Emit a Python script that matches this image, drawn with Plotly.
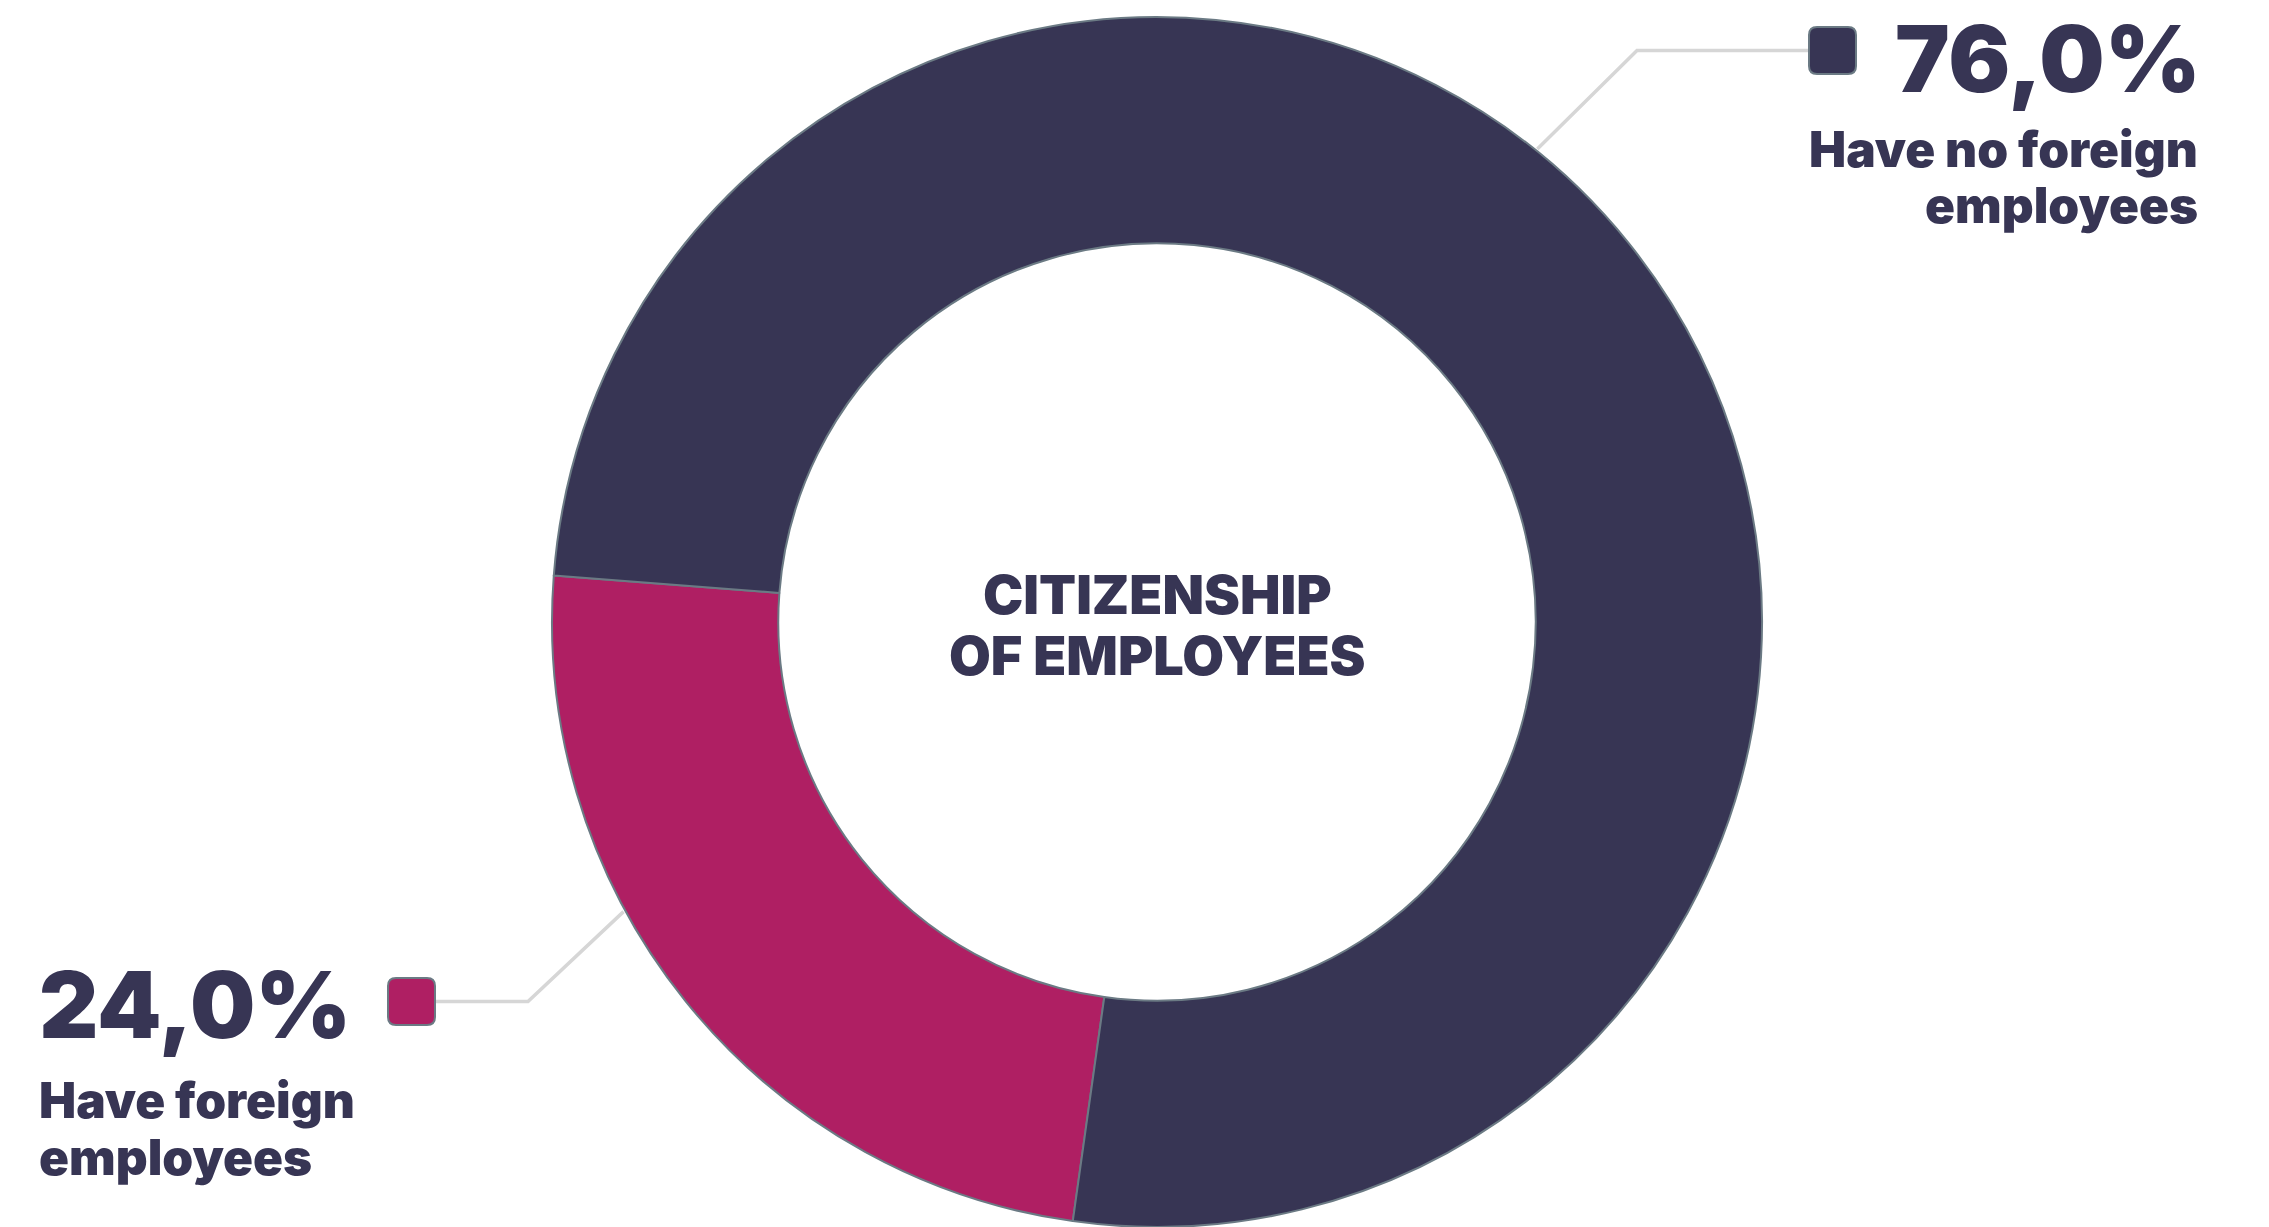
import numpy as np
import plotly.graph_objects as go

# --- data ---
labels = ["Have foreign employees", "Have no foreign employees"]
values = [24.0, 76.0]
colors = ["#AF1F63", "#373554"]
value_texts = ["24,0%", "76,0%"]
caption_lines = [["Have foreign", "employees"], ["Have no foreign", "employees"]]
center_title = ["CITIZENSHIP", "OF EMPLOYEES"]

W, H = 2269, 1227
FONT = "Inter"
INK = "#373554"
EDGE = "#6B7A84"
LEADER = "#D6D6D6"

# donut geometry in pixels
cx, cy, R = 1157, 622, 605
hole = 0.626
rotation = 188

fig = go.Figure()

fig.add_trace(go.Pie(
    labels=labels,
    values=values,
    sort=False,
    direction="clockwise",
    rotation=rotation,
    hole=hole,
    marker=dict(colors=colors, line=dict(color=EDGE, width=2)),
    textinfo="none",
    hoverinfo="label+percent",
    showlegend=False,
    domain=dict(x=[(cx - R) / W, (cx + R) / W],
                y=[1 - (cy + R) / H if cy + R < H else 0, 1 - (cy - R) / H]),
))

# pixel-space overlay axes for leaders, swatches and labels
fig.add_trace(go.Scatter(x=[0, W], y=[0, H], mode="markers",
                         marker=dict(opacity=0), hoverinfo="skip", showlegend=False))


def edge_point(angle_deg, r):
    a = np.deg2rad(angle_deg)
    return cx + r * np.sin(a), cy - r * np.cos(a)


def rounded_square(x0, y0, s, rr):
    x1, y1 = x0 + s, y0 + s
    return (f"M {x0+rr},{y0} L {x1-rr},{y0} Q {x1},{y0} {x1},{y0+rr} "
            f"L {x1},{y1-rr} Q {x1},{y1} {x1-rr},{y1} L {x0+rr},{y1} "
            f"Q {x0},{y1} {x0},{y1-rr} L {x0},{y0+rr} Q {x0},{y0} {x0+rr},{y0} Z")


shapes = []
annotations = []

# leader angles measured clockwise from 12 o'clock
leaders = [
    dict(angle=241.5, elbow_x=528, swatch_x=388, swatch_y=978, side="left"),
    dict(angle=38.8, elbow_x=1637, swatch_x=1809, swatch_y=27, side="right"),
]
SW = 47

for i, ld in enumerate(leaders):
    px, py = edge_point(ld["angle"], R + 2)
    sy = ld["swatch_y"] + SW / 2
    end_x = ld["swatch_x"] + SW if ld["side"] == "left" else ld["swatch_x"]
    shapes.append(dict(type="path", xref="x", yref="y", layer="below",
                       path=f"M {px},{py} L {ld['elbow_x']},{sy} L {end_x},{sy}",
                       line=dict(color=LEADER, width=3.5)))
    shapes.append(dict(type="path", xref="x", yref="y",
                       path=rounded_square(ld["swatch_x"], ld["swatch_y"], SW, 8),
                       fillcolor=colors[i], line=dict(color=EDGE, width=2)))

text_blocks = [
    dict(x=37, anchor="left", value_y=1004, cap_y=[1100, 1157]),
    dict(x=2203, anchor="right", value_y=58, cap_y=[149, 205]),
]
for i, tb in enumerate(text_blocks):
    annotations.append(dict(x=tb["x"], y=tb["value_y"], xref="x", yref="y",
                            text=value_texts[i], showarrow=False,
                            xanchor=tb["anchor"], yanchor="middle",
                            font=dict(family=FONT, size=92, color=INK, weight=900)))
    for line, ly in zip(caption_lines[i], tb["cap_y"]):
        annotations.append(dict(x=tb["x"] - (3 if tb["anchor"] == "right" else 0),
                                y=ly, xref="x", yref="y",
                                text=line, showarrow=False,
                                xanchor=tb["anchor"], yanchor="middle",
                                font=dict(family=FONT, size=49.5, color=INK, weight=900)))

for line, ly in zip(center_title, [594, 655]):
    annotations.append(dict(x=cx, y=ly, xref="x", yref="y", text=line,
                            showarrow=False, xanchor="center", yanchor="middle",
                            font=dict(family=FONT, size=54, color=INK, weight=900)))

fig.update_layout(
    width=W, height=H,
    margin=dict(l=0, r=0, t=0, b=0),
    paper_bgcolor="white",
    plot_bgcolor="rgba(0,0,0,0)",
    xaxis=dict(range=[0, W], visible=False, domain=[0, 1], fixedrange=True),
    yaxis=dict(range=[H, 0], visible=False, domain=[0, 1], fixedrange=True),
    shapes=shapes,
    annotations=annotations,
)

fig.write_html("out.html", config={"displayModeBar": False})
